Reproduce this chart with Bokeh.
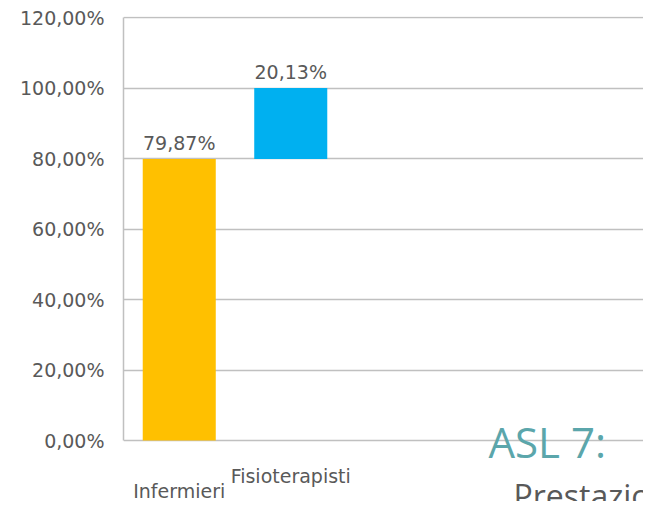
from bokeh.plotting import figure
from bokeh.models import (Range1d, FixedTicker, CustomJSTickFormatter,
                          ColumnDataSource, LabelSet)
from bokeh.core.properties import value
from bokeh.embed import file_html
from bokeh.resources import INLINE

# ---- data ----
categories = ["Infermieri", "Fisioterapisti"]
values = [79.87, 20.13]
y_ticks = [0, 20, 40, 60, 80, 100, 120]
colors = ["#FFC000", "#00B0F0"]
title_text = "ASL 7:"
subtitle_text = "Prestazioni"

# waterfall geometry from data
bottoms, acc = [], 0.0
for v in values:
    bottoms.append(acc)
    acc += v
tops = [b + v for b, v in zip(bottoms, values)]
xs = [i + 0.5 for i in range(len(categories))]
labels = [("%.2f" % v).replace(".", ",") + "%" for v in values]
# staggered category labels: pixel offsets below the zero line
cat_offsets = [-57, -42]

src = ColumnDataSource(dict(x=xs, bottom=bottoms, top=tops, color=colors,
                            label=labels, cat=categories, zero=[0] * len(xs),
                            off=cat_offsets))

FONT = "DejaVu Sans"
BIG = "Open Sans"
GRAY = "#595959"
GRID = "#c0c0c0"

# layout: 111.5 px per category, 3.525 px per percent
W, H = 643, 501
LEFT, TOP = 123, 16
PX_X = 111.5
PX_Y = 423 / 120.0
ZERO_Y = 440
y_max = max(y_ticks)

p = figure(width=W, height=H, output_backend="svg", toolbar_location=None,
           x_range=Range1d(0, (W - LEFT) / PX_X),
           y_range=Range1d(-(H - ZERO_Y) / PX_Y, y_max + 1 / PX_Y),
           x_axis_location=None, min_border_left=LEFT, min_border_top=TOP,
           min_border_right=0, min_border_bottom=0)
p.background_fill_color = "white"
p.border_fill_color = "white"
p.outline_line_color = None

p.xgrid.visible = False
p.yaxis.ticker = FixedTicker(ticks=y_ticks)
p.yaxis.bounds = (min(y_ticks), y_max)
p.yaxis.formatter = CustomJSTickFormatter(code="return tick.toFixed(2).replace('.', ',') + '%';")
p.yaxis.axis_line_color = GRID
p.yaxis.axis_line_width = 1.5
p.yaxis.major_tick_line_color = None
p.yaxis.minor_tick_line_color = None
p.yaxis.major_label_standoff = 13
p.yaxis.major_label_text_font = FONT
p.yaxis.major_label_text_font_size = "19px"
p.yaxis.major_label_text_color = GRAY
p.ygrid.grid_line_color = GRID
p.ygrid.grid_line_width = 1.5

p.vbar(x="x", bottom="bottom", top="top", width=0.655, fill_color="color",
       line_color=None, source=src)

p.add_layout(LabelSet(x="x", y="top", text="label", source=src, y_offset=9,
                      text_align="center", text_baseline="alphabetic",
                      text_font=value(FONT), text_font_size=value("19px"),
                      text_color=GRAY))

p.add_layout(LabelSet(x="x", y="zero", text="cat", source=src, y_offset="off",
                      text_align="center", text_baseline="alphabetic",
                      text_font=value(FONT), text_font_size=value("19px"),
                      text_color=GRAY))

# slide-title texts overlapping the chart (positions in frame pixels)
title_src = ColumnDataSource(dict(x=[365 / PX_X], y=[-17 / PX_Y], t=[title_text]))
sub_src = ColumnDataSource(dict(x=[390 / PX_X], y=[-67 / PX_Y], t=[subtitle_text]))
p.add_layout(LabelSet(x="x", y="y", text="t", source=title_src,
                      text_align="left", text_baseline="alphabetic",
                      text_font=value(BIG), text_font_size=value("42px"),
                      text_color="#5ba6ab"))
p.add_layout(LabelSet(x="x", y="y", text="t", source=sub_src,
                      text_align="left", text_baseline="alphabetic",
                      text_font=value(BIG), text_font_size=value("32px"),
                      text_color=GRAY))

open("out.html", "w").write(file_html(p, INLINE))
